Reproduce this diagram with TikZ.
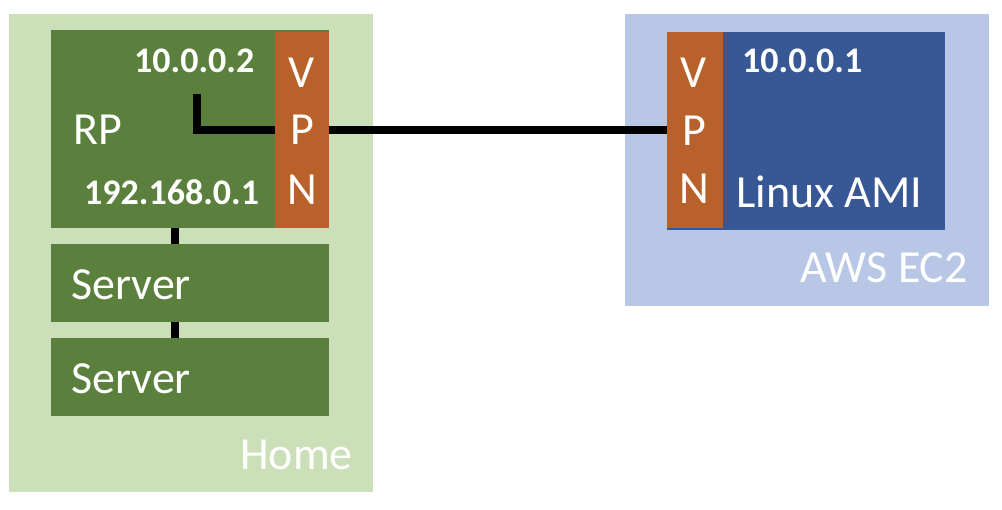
\documentclass[tikz,border=0pt]{standalone}
\usepackage{fontspec}
\setmainfont{Carlito}
\definecolor{homebg}{HTML}{CBDFB8}
\definecolor{rpgreen}{HTML}{5B7F3C}
\definecolor{vpnorange}{HTML}{B9612B}
\definecolor{awsbg}{HTML}{B7C7E5}
\definecolor{amiblue}{HTML}{375795}
\tikzset{
  box/.style={draw=none, inner sep=0pt, outer sep=0pt, anchor=north west},
  lbl/.style={inner sep=0pt, text=white, font=\fontsize{46}{46}\selectfont},
  ip/.style={inner sep=0pt, text=white, font=\bfseries\fontsize{36}{36}\selectfont},
  wire/.style={line width=7.5pt, black},
}
\begin{document}
\begin{tikzpicture}[x=1pt,y=-1pt]
\useasboundingbox (0,0) rectangle (1002,510);
% containers
\node[box, fill=homebg, minimum width=364pt, minimum height=478pt] (home) at (9,14) {};
\node[box, fill=awsbg, minimum width=364pt, minimum height=292pt] (aws) at (625,14) {};
% home side
\node[box, fill=rpgreen, minimum width=278pt, minimum height=198pt] (rp) at (51,30) {};
\node[box, fill=vpnorange, minimum width=54pt, minimum height=196pt] (vpnL) at (275,32) {};
\node[box, fill=rpgreen, minimum width=278pt, minimum height=78pt] (srv1) at (51,244) {};
\node[box, fill=rpgreen, minimum width=278pt, minimum height=78pt] (srv2) at (51,338) {};
% aws side
\node[box, fill=amiblue, minimum width=278pt, minimum height=198pt] (ami) at (667,32) {};
\node[box, fill=vpnorange, minimum width=56pt, minimum height=196pt] (vpnR) at (667,32) {};
% texts
\node[ip, anchor=base west] (ipL) at (134,73) {10.0.0.2};
\node[lbl, anchor=base west] (rpt) at (73,145) {RP};
\node[ip, anchor=base west] (ipH) at (84,205) {192.168.0.1};
\node[lbl, anchor=base] (v1) at (302,88) {V};
\node[lbl, anchor=base] (p1) at (302,145) {P};
\node[lbl, anchor=base] (n1) at (302,205) {N};
\node[lbl, anchor=base west] (s1t) at (71,300) {Server};
\node[lbl, anchor=base west] (s2t) at (71,394) {Server};
\node[lbl, anchor=base east] (homet) at (353,470) {Home};
\node[lbl, anchor=base] (v2) at (694,88) {V};
\node[lbl, anchor=base] (p2) at (694,146) {P};
\node[lbl, anchor=base] (n2) at (694,204) {N};
\node[ip, anchor=base west] (ipR) at (742,73) {10.0.0.1};
\node[lbl, anchor=base west] (amit) at (736,208) {Linux AMI};
\node[lbl, anchor=base east] (awst) at (968,283) {AWS EC2};
% connectors
\coordinate (tun) at (197,94);
\coordinate (bus) at (175,0);
\draw[wire] (tun) |- (vpnL.west);
\draw[wire] (vpnL.east) -- (vpnR.west);
\draw[wire] (rp.south -| bus) -- (srv1.north -| bus);
\draw[wire] (srv1.south -| bus) -- (srv2.north -| bus);
\end{tikzpicture}
\end{document}
